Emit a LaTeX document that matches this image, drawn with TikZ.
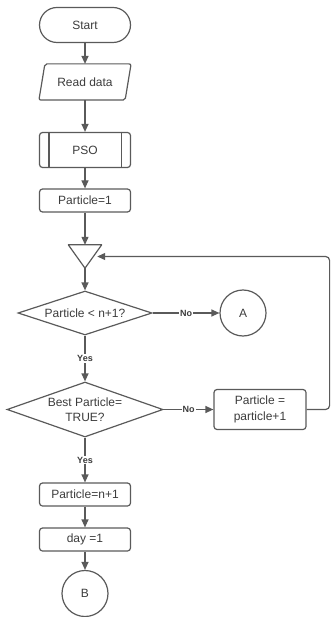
\documentclass[tikz,border=0pt]{standalone}
\usepackage{fontspec}
\setmainfont{Liberation Sans}
\usetikzlibrary{shapes.geometric,arrows.meta,calc}
\definecolor{linec}{HTML}{5A5A5A}
\definecolor{textc}{HTML}{3C3C3C}
\begin{document}
\begin{tikzpicture}[x=1pt,y=-1pt,
  base/.style={draw=linec, line width=1.2pt, text=textc, font=\fontsize{12}{15.5}\selectfont, align=center, inner sep=0pt},
  procbox/.style={base, rectangle, rounded corners=3pt, minimum width=91pt, minimum height=23pt},
  terminal/.style={base, rectangle, rounded corners=17.5pt, minimum width=91pt, minimum height=35pt},
  io/.style={base, rectangle, draw=none, minimum width=91pt, minimum height=35pt},
  predef/.style={base, rectangle, rounded corners=3pt, minimum width=91pt, minimum height=35pt},
  mergebox/.style={rectangle, draw=none, inner sep=0pt, minimum width=33pt, minimum height=23pt},
  decision/.style={base, diamond},
  conncircle/.style={base, circle, minimum size=46pt},
  conn/.style={draw=linec, line width=1.2pt, -{Triangle[length=8pt,width=7pt]}},
  plain/.style={draw=linec, line width=1.2pt},
  lbl/.style={fill=white, text=textc, font=\bfseries\fontsize{9}{10}\selectfont, inner sep=1pt}
]
\useasboundingbox (0,0) rectangle (332,617);

\node[terminal] (start) at (85,25) {Start};
\node[io] (read) at (85,82) {Read data};
\draw[plain, rounded corners=2pt] ([xshift=6pt]read.north west) -- (read.north east) -- ([xshift=-6pt]read.south east) -- (read.south west) -- cycle;
\node[predef] (pso) at (85,150) {PSO};
\draw[plain] ([xshift=10pt]pso.north west) -- ([xshift=10pt]pso.south west);
\draw[plain] ([xshift=-10pt]pso.north east) -- ([xshift=-10pt]pso.south east);
\node[procbox] (p1) at (85,200.5) {Particle=1};
\node[mergebox] (merge) at (85,256.5) {};
\draw[plain, line join=round] (merge.north west) -- (merge.north east) -- (merge.south) -- cycle;
\node[decision, aspect=3, minimum width=134pt, minimum height=44pt] (d1) at (85,313) {Particle < n+1?};
\node[conncircle] (a) at (243,313) {A};
\node[decision, aspect=2.8, minimum width=156pt, minimum height=55pt] (d2) at (85,409.5) {Best Particle=\\TRUE?};
\node[procbox, minimum width=92pt, minimum height=40pt] (inc) at (260,409.5) {Particle =\\particle+1};
\node[procbox] (pn) at (85,494.5) {Particle=n+1};
\node[procbox] (day) at (85,539.5) {day =1};
\node[conncircle] (b) at (85,593.5) {B};

\draw[conn] (start) -- (read);
\draw[conn] (read) -- (pso);
\draw[conn] (pso) -- (p1);
\draw[conn] (p1) -- (merge.north);
\draw[conn] (merge.south) -- (d1);
\draw[conn] (d1) -- node[lbl]{No} (a);
\draw[conn] (d1) -- node[lbl]{Yes} (d2);
\draw[conn] (d2) -- node[lbl]{No} (inc);
\draw[conn] (d2) -- node[lbl]{Yes} (pn);
\draw[conn] (pn) -- (day);
\draw[conn] (day) -- (b);
\draw[conn, rounded corners=4pt] (inc.east) -- ++(23,0) |- ([xshift=-4.5pt]merge.east);
\end{tikzpicture}
\end{document}
